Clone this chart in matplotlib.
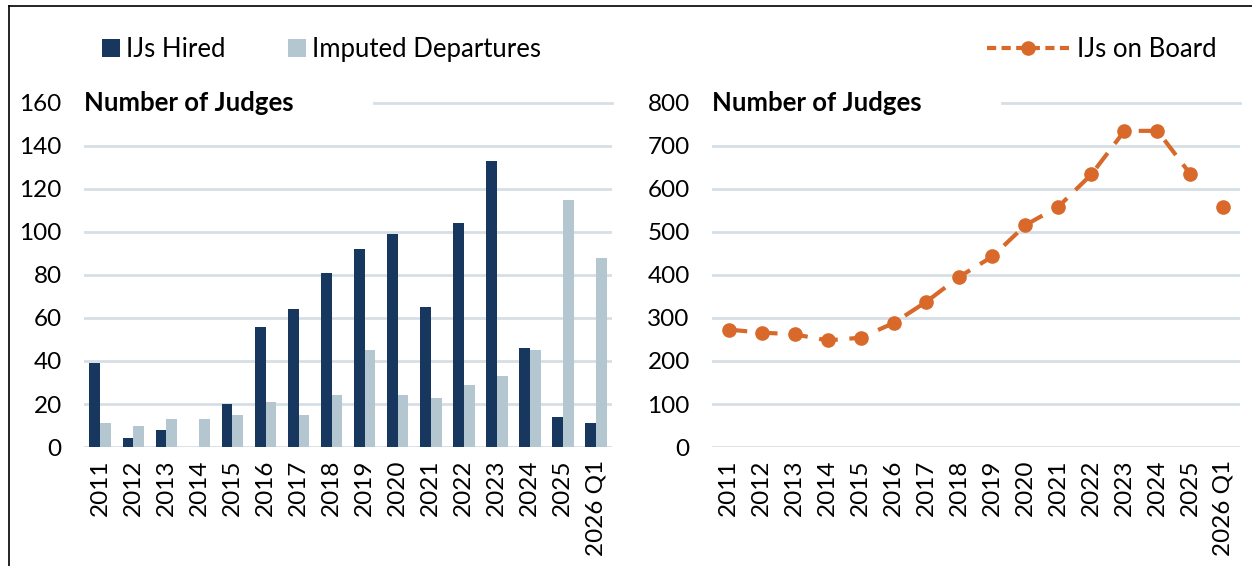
import numpy as np
import matplotlib.pyplot as plt
from matplotlib.lines import Line2D

plt.rcParams['font.family'] = ['Lato', 'DejaVu Sans']

# data
years = ['2011', '2012', '2013', '2014', '2015', '2016', '2017', '2018',
         '2019', '2020', '2021', '2022', '2023', '2024', '2025', '2026 Q1']
hired = [39, 4, 8, 0, 20, 56, 64, 81, 92, 99, 65, 104, 133, 46, 14, 11]
departures = [11, 10, 13, 13, 15, 21, 15, 24, 45, 24, 23, 29, 33, 45, 115, 88]
on_board = [273, 266, 262, 248, 254, 288, 338, 396, 443, 516, 559, 634, 735, 735, 634, 557]

navy = '#17375E'
light = '#B4C7D1'
orange = '#D8692A'
grid_col = '#D6DFE6'

fig = plt.figure(figsize=(12.52, 5.66), dpi=100)
ax1 = fig.add_axes([0.067, 0.2102, 0.422, 0.608])
ax2 = fig.add_axes([0.5687, 0.2102, 0.4217, 0.608])

x = np.arange(len(years))
w = 0.33
ax1.bar(x - w / 2, hired, width=w, color=navy, label='IJs Hired', zorder=3)
ax1.bar(x + w / 2, departures, width=w, color=light, label='Imputed Departures', zorder=3)

ax2.plot(x[:-1], on_board[:-1], color=orange, lw=3, ls=(0, (4.5, 2.8)), zorder=3)
ax2.plot(x, on_board, ls='none', marker='o', ms=9.5, color=orange, zorder=4)


def style(ax, top, step):
    ticks = np.arange(0, top + 1, step)
    ax.set_ylim(0, top)
    ax.set_xlim(-0.5, len(years) - 0.5)
    ax.set_yticks(ticks)
    ax.set_xticks(x)
    ax.set_xticklabels(years, rotation=90)
    ax.tick_params(length=0, labelsize=17.5, colors='black')
    ax.tick_params(axis='y', pad=16)
    ax.tick_params(axis='x', pad=9)
    for s in ax.spines.values():
        s.set_visible(False)
    for t in ticks[:-1]:
        ax.axhline(t, color=grid_col, lw=2, zorder=1)
    ax.axhline(top, xmin=0.55, color=grid_col, lw=2, zorder=1, clip_on=False)
    ax.text(0.0, 1.0, 'Number of Judges', transform=ax.transAxes, fontsize=18.5,
            fontweight='bold', va='center', ha='left')


style(ax1, 160, 20)
style(ax2, 800, 100)

# legends
fig.legend(handles=ax1.get_legend_handles_labels()[0], labels=['IJs Hired', 'Imputed Departures'],
           loc='center left', bbox_to_anchor=(0.063, 0.913), ncol=2, frameon=False,
           fontsize=18.5, handlelength=0.7, handleheight=0.7, columnspacing=2.4, handletextpad=0.25)
lh = Line2D([], [], color=orange, lw=3, ls=(0, (2.2, 1.3)), marker='o', ms=9.5)
fig.legend(handles=[lh], labels=['IJs on Board'], loc='center right',
           bbox_to_anchor=(0.99, 0.913), frameon=False, fontsize=18.5,
           handlelength=3.2, handletextpad=0.3)

# frame
fig.add_artist(Line2D([0.007, 1.0], [0.989, 0.989], color='black', lw=1.2))
fig.add_artist(Line2D([0.007, 0.007], [0.0, 0.989], color='black', lw=1.2))

fig.savefig('out.png', dpi=100)
